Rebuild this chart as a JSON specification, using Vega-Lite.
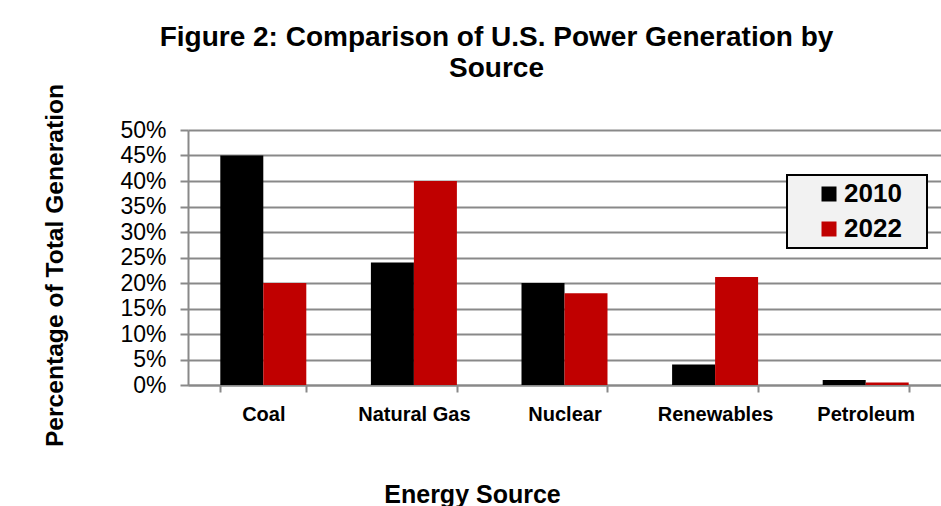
{
  "$schema": "https://vega.github.io/schema/vega-lite/v6.json",
  "autosize": {"type": "none"},
  "width": 753,
  "height": 255,
  "padding": {"left": 188, "top": 130, "right": 0, "bottom": 121},
  "background": "white",
  "title": {
    "text": ["Figure 2: Comparison of U.S. Power Generation by", "Source"],
    "font": "Liberation Sans",
    "fontSize": 28,
    "fontWeight": "bold",
    "color": "black",
    "anchor": "middle",
    "dx": -68,
    "offset": 0,
    "lineHeight": 31
  },
  "data": {
    "values": [
      {"Source": "Coal", "Year": "2010", "Percent": 45},
      {"Source": "Coal", "Year": "2022", "Percent": 20},
      {"Source": "Natural Gas", "Year": "2010", "Percent": 24},
      {"Source": "Natural Gas", "Year": "2022", "Percent": 40},
      {"Source": "Nuclear", "Year": "2010", "Percent": 20},
      {"Source": "Nuclear", "Year": "2022", "Percent": 18},
      {"Source": "Renewables", "Year": "2010", "Percent": 4},
      {"Source": "Renewables", "Year": "2022", "Percent": 21.2},
      {"Source": "Petroleum", "Year": "2010", "Percent": 1},
      {"Source": "Petroleum", "Year": "2022", "Percent": 0.5}
    ]
  },
  "mark": {"type": "bar"},
  "encoding": {
    "x": {
      "field": "Source",
      "type": "nominal",
      "sort": ["Coal", "Natural Gas", "Nuclear", "Renewables", "Petroleum"],
      "scale": {"paddingInner": 0.429, "paddingOuter": 0.2145},
      "axis": {
        "title": "Energy Source",
        "titleFont": "Liberation Sans",
        "titleFontSize": 25,
        "titleFontWeight": "bold",
        "titleColor": "black",
        "titlePadding": 58,
        "titleX": 284,
        "labelFont": "Liberation Sans",
        "labelFontSize": 20,
        "labelFontWeight": "bold",
        "labelColor": "black",
        "labelAngle": 0,
        "labelPadding": 12,
        "tickBand": "extent",
        "tickSize": 7,
        "tickColor": "#898989",
        "tickWidth": 2,
        "domainColor": "#898989",
        "domainWidth": 2,
        "grid": false
      }
    },
    "xOffset": {"field": "Year", "type": "nominal"},
    "y": {
      "field": "Percent",
      "type": "quantitative",
      "scale": {"domain": [0, 50], "nice": false},
      "axis": {
        "title": "Percentage of Total Generation",
        "titleFont": "Liberation Sans",
        "titleFontSize": 24.6,
        "titleFontWeight": "bold",
        "titleColor": "black",
        "titlePadding": 52,
        "titleY": 135,
        "values": [0, 5, 10, 15, 20, 25, 30, 35, 40, 45, 50],
        "labelExpr": "datum.value + '%'",
        "labelFont": "Liberation Sans",
        "labelFontSize": 23,
        "labelColor": "black",
        "labelPadding": 14,
        "tickSize": 8,
        "tickColor": "#898989",
        "tickWidth": 2,
        "domainColor": "#898989",
        "domainWidth": 2,
        "gridColor": "#898989",
        "gridWidth": 2
      }
    },
    "color": {
      "field": "Year",
      "type": "nominal",
      "scale": {"domain": ["2010", "2022"], "range": ["#000000", "#c00000"]},
      "legend": {
        "title": null,
        "orient": "none",
        "legendX": 599,
        "legendY": 45,
        "fillColor": "#f2f2f2",
        "strokeColor": "black",
        "padding": 6,
        "symbolType": "square",
        "symbolSize": 225,
        "symbolStrokeWidth": 0,
        "symbolOffset": 23,
        "labelOffset": 2,
        "labelFont": "Liberation Sans",
        "labelFontSize": 26,
        "labelFontWeight": "bold",
        "labelColor": "black",
        "labelExpr": "datum.label + '\u2800'",
        "rowPadding": 9,
        "encode": {"legend": {"update": {"strokeWidth": {"value": 2}}}}
      }
    }
  },
  "config": {
    "view": {"stroke": null}
  }
}
